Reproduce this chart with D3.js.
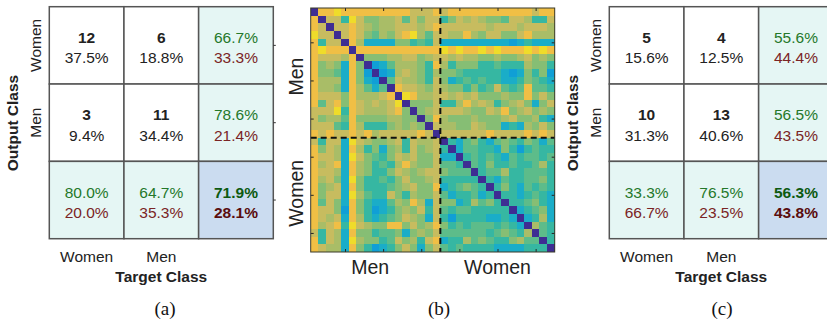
<!DOCTYPE html>
<html>
<head>
<meta charset="utf-8">
<script src="https://cdn.jsdelivr.net/npm/d3@7/dist/d3.min.js"></script>
<style>
  body { margin: 0; background: #fff; }
  svg { display: block; }
  text { font-family: "Liberation Sans", Arial, sans-serif; }
</style>
</head>
<body>
<svg id="chart" width="827" height="321"></svg>
<script>
// ---- data ----
const classNames = ["Women", "Men"]

// panel (a)
const countsA = [[12, 6], [3, 11]]
const pctA = [["37.5%", "18.8%"], ["9.4%", "34.4%"]]
const rowSumA = [["66.7%", "33.3%"], ["78.6%", "21.4%"]]
const colSumA = [["80.0%", "20.0%"], ["64.7%", "35.3%"]]
const totalA = ["71.9%", "28.1%"]

// panel (c)
const countsC = [[5, 4], [10, 13]]
const pctC = [["15.6%", "12.5%"], ["31.3%", "40.6%"]]
const rowSumC = [["55.6%", "44.4%"], ["56.5%", "43.5%"]]
const colSumC = [["33.3%", "66.7%"], ["76.5%", "23.5%"]]
const totalC = ["56.3%", "43.8%"]

// panel (b): symmetric 32x32 matrix, lower triangle, level 0..9
const heatLower = [
  "0",
  "80",
  "870",
  "9770",
  "83770",
  "898880",
  "8777680",
  "85652850",
  "855428510",
  "8666285210",
  "86652864240",
  "877758666780",
  "8478587676790",
  "77793876667850",
  "756648555566550",
  "7774386333565650",
  "87877878677777870",
  "737729765567376670",
  "8576286352563756730",
  "87762975435767557220",
  "867828653436865574430",
  "8776286533576567754440",
  "86752953343575567333330",
  "856728533345675582345430",
  "8577296433753655742334230",
  "84752853224658627552364530",
  "877518531235657374344333330",
  "8767286323457652731333322320",
  "86783976558857568534344434320",
  "737628553445256574444443454360",
  "8376296553475637823364543356440",
  "87662853123575257434333322223330"
]
const nMen = 17
const nWomen = 15
const heatGroups = ["Men", "Women"]
const heatGroupPos = [8.3, 25]      // tick label positions (x), in matrix units
const heatGroupPosY = [9.5, 24.8]
const heatTicks = [5, 10, 15, 20, 25, 30]
const panelLabels = ["(a)", "(b)", "(c)"]

// parula-like colours for levels 0..9
const levelColors = ["#3e2d93", "#109fd6", "#1aadc8", "#36b7a2", "#5dbc8a", "#86be74",
                     "#a9bd67", "#c7bc5f", "#f0bf45", "#efdc2a"]

const svg = d3.select("#chart")

// ---- confusion matrices ----
function drawConf(x0, counts, pct, rowSum, colSum, total) {
  var g = svg.append("g")
  var cx = d3.scaleBand().domain([0, 1, 2]).range([x0, x0 + 224])
  var cy = d3.scaleBand().domain([0, 1, 2]).range([6.7, 238.7])
  var green = "#24782a", red = "#7a2424"

  var cells = []
  for (var r = 0; r < 3; r++) for (var c = 0; c < 3; c++) cells.push({ r: r, c: c })

  g.selectAll("rect.cell").data(cells).enter().append("rect")
    .attr("class", "cell")
    .attr("x", d => cx(d.c)).attr("y", d => cy(d.r))
    .attr("width", cx.bandwidth()).attr("height", cy.bandwidth())
    .attr("fill", d => (d.r < 2 && d.c < 2) ? "#ffffff" : (d.r == 2 && d.c == 2 ? "#cbdcf0" : "#e5f6f4"))
    .attr("stroke", "#555").attr("stroke-width", 1.5)

  cells.forEach(function (d) {
    var mx = cx(d.c) + cx.bandwidth() / 2
    var my = cy(d.r) + cy.bandwidth() / 2
    var top, bot, c1, c2, w1, w2
    if (d.r < 2 && d.c < 2) {
      top = counts[d.r][d.c]; bot = pct[d.r][d.c]; c1 = c2 = "#222"; w1 = "bold"; w2 = "normal"
    } else if (d.r < 2) {
      top = rowSum[d.r][0]; bot = rowSum[d.r][1]; c1 = green; c2 = red; w1 = w2 = "normal"
    } else if (d.c < 2) {
      top = colSum[d.c][0]; bot = colSum[d.c][1]; c1 = green; c2 = red; w1 = w2 = "normal"
    } else {
      top = total[0]; bot = total[1]; c1 = "#0d5a10"; c2 = "#5a0d0d"; w1 = w2 = "bold"
    }
    g.append("text").attr("x", mx).attr("y", my - 8).attr("text-anchor", "middle")
      .attr("dominant-baseline", "central").attr("font-size", 15.5).attr("font-weight", w1)
      .attr("fill", c1).text(top)
    g.append("text").attr("x", mx).attr("y", my + 12.5).attr("text-anchor", "middle")
      .attr("dominant-baseline", "central").attr("font-size", 15.5).attr("font-weight", w2)
      .attr("fill", c2).text(bot)
  })

  // right-side ticks
  g.selectAll("line.rt").data([0, 1, 2]).enter().append("line")
    .attr("x1", x0 + 224).attr("x2", x0 + 226.5)
    .attr("y1", d => cy(d) + cy.bandwidth() / 2).attr("y2", d => cy(d) + cy.bandwidth() / 2)
    .attr("stroke", "#333").attr("stroke-width", 1)

  // class labels
  classNames.forEach(function (name, i) {
    g.append("text").attr("x", cx(i) + cx.bandwidth() / 2).attr("y", 256.5)
      .attr("text-anchor", "middle").attr("dominant-baseline", "central")
      .attr("font-size", 15.5).attr("fill", "#222").text(name)
    var ly = cy(i) + cy.bandwidth() / 2
    g.append("text").attr("transform", "translate(" + (x0 - 14) + "," + ly + ") rotate(-90)")
      .attr("text-anchor", "middle").attr("dominant-baseline", "central")
      .attr("font-size", 15.5).attr("fill", "#222").text(name)
  })
  g.append("text").attr("x", x0 + 112).attr("y", 276.5).attr("text-anchor", "middle")
    .attr("dominant-baseline", "central").attr("font-size", 15.5).attr("font-weight", "bold")
    .attr("fill", "#222").text("Target Class")
  g.append("text").attr("transform", "translate(" + (x0 - 37) + "," + 123 + ") rotate(-90)")
    .attr("text-anchor", "middle").attr("dominant-baseline", "central")
    .attr("font-size", 15.5).attr("font-weight", "bold").attr("fill", "#222").text("Output Class")
}

drawConf(49.3, countsA, pctA, rowSumA, colSumA, totalA)
drawConf(609.3, countsC, pctC, rowSumC, colSumC, totalC)

// ---- heat map ----
var n = nMen + nWomen
var hx = d3.scaleLinear().domain([0.5, n + 0.5]).range([310.7, 554.7])
var hy = d3.scaleLinear().domain([0.5, n + 0.5]).range([8, 252])
var color = d3.scaleLinear().domain(d3.range(10)).range(levelColors)

var heatCells = []
for (var i = 0; i < n; i++) {
  for (var j = 0; j < n; j++) {
    var v = i >= j ? +heatLower[i][j] : +heatLower[j][i]
    heatCells.push({ row: i + 1, col: j + 1, v: v })
  }
}

var hg = svg.append("g")
hg.selectAll("rect").data(heatCells).enter().append("rect")
  .attr("x", d => hx(d.col - 0.5)).attr("y", d => hy(d.row - 0.5))
  .attr("width", hx(1.5) - hx(0.5) + 0.3).attr("height", hy(1.5) - hy(0.5) + 0.3)
  .attr("fill", d => color(d.v))
  .attr("shape-rendering", "crispEdges")

// group separators
var split = nMen + 0.5
hg.append("line").attr("x1", hx(split)).attr("x2", hx(split)).attr("y1", hy(0.5)).attr("y2", hy(n + 0.5))
  .attr("stroke", "#111").attr("stroke-width", 2).attr("stroke-dasharray", "6,4")
hg.append("line").attr("x1", hx(0.5)).attr("x2", hx(n + 0.5)).attr("y1", hy(split)).attr("y2", hy(split))
  .attr("stroke", "#111").attr("stroke-width", 2).attr("stroke-dasharray", "6,4")

// axes (ticks inward, no labels)
function tickAxis(axis, tr) {
  var a = hg.append("g").attr("transform", tr)
    .call(axis.tickValues(heatTicks).tickSize(-3).tickFormat(""))
  a.select(".domain").remove()
  a.selectAll("line").attr("stroke", "#262626")
}
tickAxis(d3.axisBottom(hx), "translate(0," + hy(n + 0.5) + ")")
tickAxis(d3.axisTop(hx), "translate(0," + hy(0.5) + ")")
tickAxis(d3.axisLeft(hy), "translate(" + hx(0.5) + ",0)")
tickAxis(d3.axisRight(hy), "translate(" + hx(n + 0.5) + ",0)")

hg.append("rect").attr("x", hx(0.5)).attr("y", hy(0.5))
  .attr("width", hx(n + 0.5) - hx(0.5)).attr("height", hy(n + 0.5) - hy(0.5))
  .attr("fill", "none").attr("stroke", "#3a3a2a").attr("stroke-width", 1)

heatGroups.forEach(function (name, k) {
  hg.append("text").attr("x", hx(heatGroupPos[k])).attr("y", 266.5)
    .attr("text-anchor", "middle").attr("dominant-baseline", "central")
    .attr("font-size", 19.5).attr("fill", "#222").text(name)
  hg.append("text").attr("transform", "translate(296," + hy(heatGroupPosY[k]) + ") rotate(-90)")
    .attr("text-anchor", "middle").attr("dominant-baseline", "central")
    .attr("font-size", 19.5).attr("fill", "#222").text(name)
})

// ---- panel captions ----
var capX = [165, 439, 722]
panelLabels.forEach(function (t, k) {
  svg.append("text").attr("x", capX[k]).attr("y", 308).attr("text-anchor", "middle")
    .attr("dominant-baseline", "central")
    .style("font-family", "'Liberation Serif', 'Times New Roman', serif")
    .attr("font-size", 19).attr("fill", "#111").text(t)
})
</script>
</body>
</html>
